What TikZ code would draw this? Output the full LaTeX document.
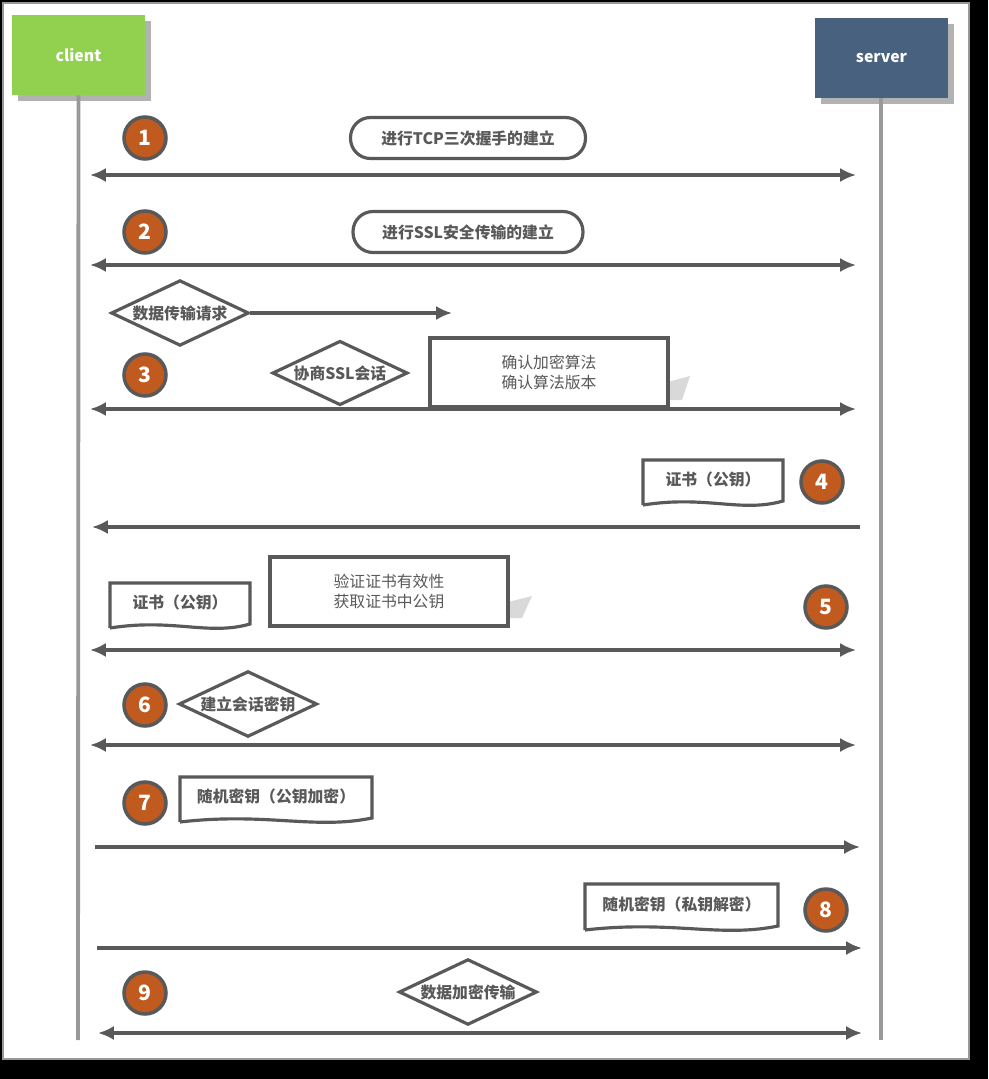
\documentclass[tikz,border=0pt]{standalone}
\usepackage{fontspec}
\setmainfont{Noto Sans CJK SC}
\usetikzlibrary{positioning,calc,shapes.geometric}
\definecolor{linegray}{HTML}{595959}
\definecolor{numfill}{HTML}{C05A1E}
\definecolor{clientgreen}{HTML}{92D050}
\definecolor{serverblue}{HTML}{48617F}
\tikzset{
  msg/.style={draw=linegray, line width=2.6pt, -{Latex[length=9pt,width=8pt]}},
  msgboth/.style={msg, {Latex[length=9pt,width=8pt]}-{Latex[length=9pt,width=8pt]}},
  num/.style={circle, draw=linegray, line width=2pt, fill=numfill, text=white,
    minimum size=0.84cm, inner sep=0pt, font=\bfseries\large},
  pill/.style={draw=linegray, line width=1.8pt, rounded corners=0.4cm,
    minimum height=0.82cm, font=\bfseries\small, text=linegray},
  choice/.style={diamond, aspect=2.1, draw=linegray, line width=1.8pt, fill=white,
    inner sep=1pt, font=\bfseries\small, text=linegray},
  note/.style={draw=linegray, line width=2pt, fill=white, align=center,
    font=\small, text=linegray, inner sep=4pt},
  party/.style={minimum width=2.66cm, minimum height=1.6cm, text=white,
    font=\bfseries\small}
}
\usetikzlibrary{arrows.meta}
% wavy document shape
\newcommand{\docbox}[6]{%
  \draw[linegray, line width=1.8pt, fill=white]
    (#2,#5) -- (#2,#3) -- (#4,#3) -- (#4,#5-4)
    .. controls ($(#4,#5)!0.3!(#2,#5)+(0,8)$) and ($(#2,#5)!0.45!(#4,#5)+(0,-10)$) .. (#2,#5);
  \node[font=\bfseries\small, text=linegray] (#1) at ($(#2,#3)!0.5!(#4,#5)+(0,-3)$) {#6};
}
\begin{document}
\begin{tikzpicture}[x=0.02cm, y=-0.02cm]
\fill[black] (0,0) rectangle (988,1079);
\fill[white, draw=gray!80, line width=1pt] (3,3) rectangle (969,1059);
\useasboundingbox (0,0) rectangle (988,1079);

% parties
\fill[gray!60] (18,21) rectangle (151,101);
\node[party, fill=clientgreen] (client) at (78.5,55) {client};
\fill[gray!60] (821,24) rectangle (954,104);
\node[party, fill=serverblue] (server) at (881.5,58) {server};
\draw[gray!80, line width=2.2pt] (client.south) -- (78,1040);
\draw[gray!80, line width=2.2pt] (881,98) -- (881,1040);

% 1
\node[num] (n1) at (145,138) {1};
\node[pill, minimum width=4.7cm] (tcp) at (468,138) {进行TCP三次握手的建立};
\coordinate (a1) at (90,175); \coordinate (b1) at (856,175);
\draw[msgboth] (a1) -- (b1);

% 2
\node[num] (n2) at (145,232) {2};
\node[pill, minimum width=4.6cm] (ssl) at (468,232) {进行SSL安全传输的建立};
\coordinate (a2) at (90,265); \coordinate (b2) at (856,265);
\draw[msgboth] (a2) -- (b2);

% request
\node[choice] (req) at (180,313) {数据传输请求};
\coordinate (r2) at (452,313);
\draw[msg, line width=2pt] (req.east) -- (r2);

% 3
\node[num] (n3) at (145,375) {3};
\node[choice] (nego) at (340,373) {协商SSL会话};
\fill[gray!30] (668,382) -- (690,376) -- (682,400) -- (668,400) -- cycle;
\node[note, minimum width=4.76cm, minimum height=1.38cm] (algo) at (549,372.5) {确认加密算法\\确认算法版本};
\coordinate (a3) at (90,409); \coordinate (b3) at (856,409);
\draw[msgboth] (a3) -- (b3);

% 4
\node[num] (n4) at (822,482) {4};
\docbox{cert4}{643}{460}{783}{505}{证书（公钥）}
\coordinate (a4) at (860,527); \coordinate (b4) at (92,527);
\draw[msg] (a4) -- (b4);

% 5
\node[num] (n5) at (826,607) {5};
\docbox{cert5}{110}{583}{250}{628}{证书（公钥）}
\fill[gray!30] (508,602) -- (532,596) -- (522,618) -- (508,618) -- cycle;
\node[note, minimum width=4.76cm, minimum height=1.38cm] (check) at (389,591.5) {验证证书有效性\\获取证书中公钥};
\coordinate (a5) at (90,650); \coordinate (b5) at (856,650);
\draw[msgboth] (a5) -- (b5);

% 6
\node[num] (n6) at (145,705) {6};
\node[choice] (key) at (248,704) {建立会话密钥};
\coordinate (a6) at (90,745); \coordinate (b6) at (856,745);
\draw[msgboth] (a6) -- (b6);

% 7
\node[num] (n7) at (145,803) {7};
\docbox{enc7}{180}{777}{372}{822}{随机密钥（公钥加密）}
\coordinate (a7) at (95,847); \coordinate (b7) at (860,847);
\draw[msg] (a7) -- (b7);

% 8
\node[num] (n8) at (826,910) {8};
\docbox{dec8}{585}{884}{778}{930}{随机密钥（私钥解密）}
\coordinate (a8) at (97,948); \coordinate (b8) at (862,948);
\draw[msg] (a8) -- (b8);

% 9
\node[num] (n9) at (145,993) {9};
\node[choice] (data) at (468,992) {数据加密传输};
\coordinate (a9) at (98,1033); \coordinate (b9) at (862,1033);
\draw[msgboth] (a9) -- (b9);
\end{tikzpicture}
\end{document}
